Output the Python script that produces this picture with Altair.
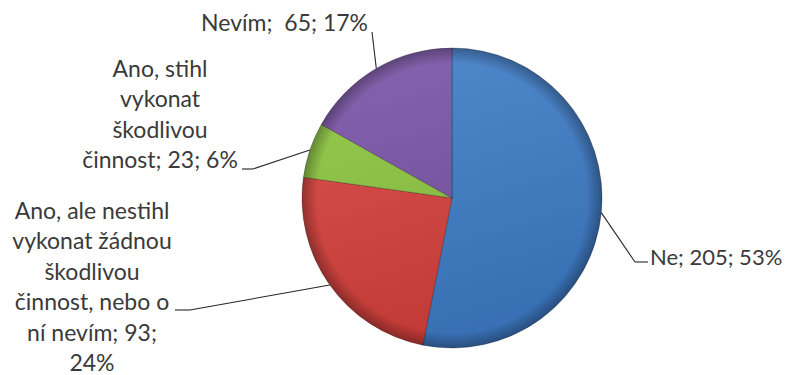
import altair as alt
import pandas as pd

# ---- data ----
categories = [
    "Ne",
    "Ano, ale nestihl vykonat žádnou škodlivou činnost, nebo o ní nevím",
    "Ano, stihl vykonat škodlivou činnost",
    "Nevím",
]
counts = [205, 93, 23, 65]
percents = ["53%", "24%", "6%", "17%"]
label_texts = [
    "Ne; 205; 53%",
    "Ano, ale nestihl\nvykonat žádnou\nškodlivou\nčinnost, nebo o\nní nevím; 93;\n24%",
    "Ano, stihl\nvykonat\nškodlivou\nčinnost; 23; 6%",
    "Nevím;\u00a0 65; 17%",
]
colors = ["#3F7DC9", "#D8413C", "#8DC63F", "#7A53A7"]

# ---- label layout (plot-area pixels) ----
layout = {
    "text_x": [348, -210, -142, 66],
    "text_y": [217, 171, 29, -17],
    "align": ["left", "center", "center", "right"],
    "end_x": [346, -127, -60, 70],
    "end_y": [214, 262, 121, -16],
    "elbow_x": [333, -112, -49, 70],
    "elbow_y": [214, 262, 121, -16],
}

df = pd.DataFrame({
    "idx": list(range(len(categories))),
    "category": categories,
    "count": counts,
    "label": label_texts,
    **layout,
})

R = 150
base = alt.Chart(df)

pie = base.mark_arc(stroke="rgba(0,0,0,0.35)", strokeWidth=0.8).encode(
    theta=alt.Theta("count:Q", stack=True),
    order=alt.Order("idx:Q"),
    color=alt.Color("category:N", scale=alt.Scale(domain=categories, range=colors), legend=None),
)

shade_lin = base.transform_aggregate(total="sum(count)").mark_arc(
    fill={"gradient": "linear", "x1": 0, "y1": 0, "x2": 0.3, "y2": 1,
          "stops": [{"offset": 0, "color": "rgba(255,255,255,0.10)"},
                    {"offset": 1, "color": "rgba(0,0,0,0.10)"}]}
).encode(theta=alt.Theta("total:Q"))

shade_rad = base.transform_aggregate(total="sum(count)").mark_arc(
    fill={"gradient": "radial", "x1": 0.5, "y1": 0.5, "r1": 0, "x2": 0.5, "y2": 0.5, "r2": 0.5,
          "stops": [{"offset": 0, "color": "rgba(0,0,0,0)"},
                    {"offset": 0.9, "color": "rgba(0,0,0,0)"},
                    {"offset": 1, "color": "rgba(0,0,0,0.30)"}]}
).encode(theta=alt.Theta("total:Q"))

geo = base.transform_joinaggregate(total="sum(count)").transform_window(
    cum="sum(count)", sort=[alt.SortField("idx")], frame=[None, 0]
).transform_calculate(
    mid="(datum.cum - datum.count/2) / datum.total * 2 * PI",
    ex=f"{R} + {R} * sin(datum.mid)",
    ey=f"{R} - {R} * cos(datum.mid)",
)

lead1 = geo.mark_rule(color="#262626", strokeWidth=1.1).encode(
    x=alt.X("ex:Q", scale=None), y=alt.Y("ey:Q", scale=None),
    x2="elbow_x:Q", y2="elbow_y:Q",
)
lead2 = geo.mark_rule(color="#262626", strokeWidth=1.1).encode(
    x=alt.X("elbow_x:Q", scale=None), y=alt.Y("elbow_y:Q", scale=None),
    x2="end_x:Q", y2="end_y:Q",
)

def txt(al, size):
    return base.transform_filter(alt.datum.align == al).mark_text(
        align=al, baseline="alphabetic", lineBreak="\n", lineHeight=30.4,
        font="Lato", fontSize=size, color="#3a3a3a",
    ).encode(
        x=alt.X("text_x:Q", scale=None), y=alt.Y("text_y:Q", scale=None),
        text="label:N",
    )

chart = alt.layer(pie, shade_lin, shade_rad, lead1, lead2,
                  txt("left", 22), txt("center", 23), txt("right", 23)).properties(
    width=300, height=300, autosize="none",
    padding={"left": 294, "top": 40, "right": 180, "bottom": 27},
    background="white",
).configure_view(stroke=None)

chart.save("out.html", embed_options={"renderer": "svg", "actions": False})
